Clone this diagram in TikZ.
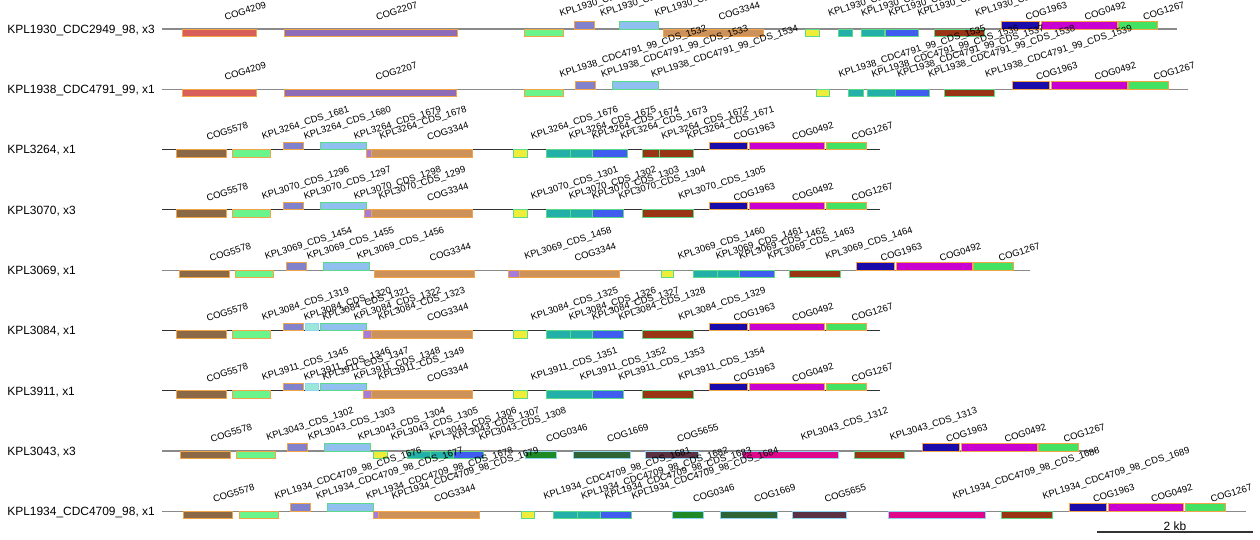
\documentclass[tikz,border=0pt]{standalone}
\usepackage{fontspec}
\setmainfont{Liberation Sans}

% gene fills
\definecolor{cog4209}{HTML}{D9605A}
\definecolor{cog2207}{HTML}{8E6CB8}
\definecolor{cog3344}{HTML}{CC9259}
\definecolor{cog5578}{HTML}{8C6946}
\definecolor{cog1963}{HTML}{1A0BAA}
\definecolor{cog0492}{HTML}{C800D0}
\definecolor{cog1267}{HTML}{44E262}
\definecolor{cog0346}{HTML}{1E8A25}
\definecolor{cog1669}{HTML}{2F6535}
\definecolor{cog5655}{HTML}{5A3142}
\definecolor{grn}{HTML}{6AF58C}
\definecolor{pbl}{HTML}{8282CC}
\definecolor{lbl}{HTML}{90C0F0}
\definecolor{spur}{HTML}{A47CDA}
\definecolor{yel}{HTML}{EEEE3A}
\definecolor{tea}{HTML}{22B0A8}
\definecolor{blu}{HTML}{3F5EF0}
\definecolor{rbr}{HTML}{993514}
\definecolor{ltl}{HTML}{9AE8DA}
\definecolor{pnk}{HTML}{E0088A}
% borders and spines
\definecolor{obrd}{HTML}{F2A548}
\definecolor{gbrd}{HTML}{5DD98A}
\definecolor{bbrd}{HTML}{90D4F0}
\definecolor{sg}{HTML}{8A8A8A}
\definecolor{sd}{HTML}{333333}

% one row: name, y, spine end, spine colour, genes
\newcommand\generow[5]{%
  \draw[spine, draw=#4] (162,#2) -- (#3,#2);
  \foreach \xa/\xb/\st/\fc/\dc/\tx/\kk in {#5} {
    \draw[gene, fill=\fc, draw=\dc] (\xa,#2) rectangle (\xb,{#2-7.5*(\st)});
  }
  \foreach \xa/\xb/\st/\fc/\dc/\tx/\kk [count=\i] in {#5} {
    \node[lab] (#1-\i) at ({(\xa+\xb)/2+6.5+5.25*\kk},{#2-8.5-1.75*\kk}) {\tx};
  }}

\def\pA{KPL1930\_CDC2949\_98\_CDS\_}
\def\pB{KPL1938\_CDC4791\_99\_CDS\_}
\def\pC{KPL3264\_CDS\_}
\def\pD{KPL3070\_CDS\_}
\def\pE{KPL3069\_CDS\_}
\def\pF{KPL3084\_CDS\_}
\def\pG{KPL3911\_CDS\_}
\def\pH{KPL3043\_CDS\_}
\def\pI{KPL1934\_CDC4709\_98\_CDS\_}

\begin{document}
\begin{tikzpicture}[
        x=0.02cm, y=-0.02cm,
        gene/.style={line width=0.5pt},
        spine/.style={line width=0.6pt},
        lab/.style={font=\fontsize{5.4}{6}\selectfont, anchor=base west, inner sep=0pt, rotate=17.5},
        rowlab/.style={font=\fontsize{6.8}{8}\selectfont, anchor=base west, inner sep=0pt}
    ]
    \useasboundingbox (0,0) rectangle (1260,540);
    \clip (0,0) rectangle (1260,540);

    % row labels
    \node[rowlab] (row1) at (7,33.3) {KPL1930\_CDC2949\_98, x3};
    \node[rowlab] (row2) at (7,93.6) {KPL1938\_CDC4791\_99, x1};
    \node[rowlab] (row3) at (7,153.9) {KPL3264, x1};
    \node[rowlab] (row4) at (7,214.2) {KPL3070, x3};
    \node[rowlab] (row5) at (7,274.5) {KPL3069, x1};
    \node[rowlab] (row6) at (7,334.8) {KPL3084, x1};
    \node[rowlab] (row7) at (7,395.1) {KPL3911, x1};
    \node[rowlab] (row8) at (7,455.3) {KPL3043, x3};
    \node[rowlab] (row9) at (7,515.6) {KPL1934\_CDC4709\_98, x1};

    \generow{r1}{29}{1177}{sg}{182/256/-1/cog4209/obrd/COG4209/0, 284/457/-1/cog2207/obrd/COG2207/0,
      524/563/-1/grn/obrd/\pA 1526/2, 574/594/1/pbl/obrd/\pA 1527/2, 619/658/1/lbl/gbrd/\pA 1528/2,
      663/763/-1/cog3344/obrd/COG3344/0, 805/819/-1/yel/gbrd/\pA 1530/2, 838/852/-1/tea/gbrd/\pA 1531/2,
      861/884/-1/tea/gbrd/\pA 1532/2, 885/918/-1/blu/gbrd/\pA 1533/2, 934/984/-1/rbr/gbrd/\pA 1534/2,
      1001/1039/1/cog1963/obrd/COG1963/0, 1041/1117/1/cog0492/obrd/COG0492/0, 1118/1157/1/cog1267/obrd/COG1267/0}

    \generow{r2}{89.3}{1188}{sg}{182/256/-1/cog4209/obrd/COG4209/0, 284/456/-1/cog2207/obrd/COG2207/0,
      524/563/-1/grn/obrd/\pB 1532/2, 575/595/1/pbl/obrd/\pB 1533/2, 612/658/1/lbl/gbrd/\pB 1534/2,
      816/829/-1/yel/gbrd/\pB 1535/2, 848/863/-1/tea/gbrd/\pB 1536/2, 867/895/-1/tea/gbrd/\pB 1537/2,
      895/929/-1/blu/gbrd/\pB 1538/2, 944/994/-1/rbr/gbrd/\pB 1539/2,
      1012/1049/1/cog1963/obrd/COG1963/0, 1051/1127/1/cog0492/obrd/COG0492/0, 1128/1168/1/cog1267/obrd/COG1267/0}

    \generow{r3}{149.6}{880}{sd}{176/226/-1/cog5578/obrd/COG5578/0, 232/270/-1/grn/obrd/\pC 1681/1,
      283/303/1/pbl/obrd/\pC 1680/1, 320/366/1/lbl/gbrd/\pC 1679/1, 366/371/-1/spur/obrd/\pC 1678/1,
      371/472/-1/cog3344/obrd/COG3344/0, 513/527/-1/yel/gbrd/\pC 1676/1, 546/570/-1/tea/gbrd/\pC 1675/1,
      570/592/-1/tea/gbrd/\pC 1674/1, 592/627/-1/blu/gbrd/\pC 1673/1, 642/659/-1/rbr/gbrd/\pC 1672/1,
      659/693/-1/rbr/gbrd/\pC 1671/1,
      709/747/1/cog1963/obrd/COG1963/0, 749/824/1/cog0492/obrd/COG0492/0, 826/866/1/cog1267/obrd/COG1267/0}

    \generow{r4}{209.9}{880}{sd}{176/226/-1/cog5578/obrd/COG5578/0, 232/270/-1/grn/obrd/\pD 1296/1,
      283/303/1/pbl/obrd/\pD 1297/1, 320/366/1/lbl/gbrd/\pD 1298/1, 364/371/-1/spur/obrd/\pD 1299/1,
      371/472/-1/cog3344/obrd/COG3344/0, 513/527/-1/yel/gbrd/\pD 1301/1, 546/570/-1/tea/gbrd/\pD 1302/1,
      570/592/-1/tea/gbrd/\pD 1303/1, 592/623/-1/blu/gbrd/\pD 1304/1, 642/693/-1/rbr/gbrd/\pD 1305/1,
      709/747/1/cog1963/obrd/COG1963/0, 749/824/1/cog0492/obrd/COG0492/0, 826/866/1/cog1267/obrd/COG1267/0}

    \generow{r5}{270.2}{1030}{sg}{179/229/-1/cog5578/obrd/COG5578/0, 235/273/-1/grn/obrd/\pE 1454/1,
      286/306/1/pbl/obrd/\pE 1455/1, 323/369/1/lbl/gbrd/\pE 1456/1, 374/474/-1/cog3344/obrd/COG3344/0,
      508/519/-1/spur/obrd/\pE 1458/1, 519/619/-1/cog3344/obrd/COG3344/0, 661/673/-1/yel/gbrd/\pE 1460/1,
      693/717/-1/tea/gbrd/\pE 1461/1, 717/739/-1/tea/gbrd/\pE 1462/1, 739/774/-1/blu/gbrd/\pE 1463/1,
      789/840/-1/rbr/gbrd/\pE 1464/1,
      856/894/1/cog1963/obrd/COG1963/0, 896/972/1/cog0492/obrd/COG0492/0, 973/1013/1/cog1267/obrd/COG1267/0}

    \generow{r6}{330.5}{880}{sd}{176/226/-1/cog5578/obrd/COG5578/0, 232/270/-1/grn/obrd/\pF 1319/1,
      283/303/1/pbl/obrd/\pF 1320/1, 305/318/1/ltl/bbrd/\pF 1321/1, 320/366/1/lbl/gbrd/\pF 1322/1,
      363/371/-1/spur/obrd/\pF 1323/1, 371/472/-1/cog3344/obrd/COG3344/0, 513/527/-1/yel/gbrd/\pF 1325/1,
      546/570/-1/tea/gbrd/\pF 1326/1, 570/592/-1/tea/gbrd/\pF 1327/1, 592/623/-1/blu/gbrd/\pF 1328/1,
      642/693/-1/rbr/gbrd/\pF 1329/1,
      709/747/1/cog1963/obrd/COG1963/0, 749/824/1/cog0492/obrd/COG0492/0, 826/866/1/cog1267/obrd/COG1267/0}

    \generow{r7}{390.8}{880}{sd}{176/226/-1/cog5578/obrd/COG5578/0, 232/270/-1/grn/obrd/\pG 1345/1,
      283/303/1/pbl/obrd/\pG 1346/1, 305/318/1/ltl/bbrd/\pG 1347/1, 320/366/1/lbl/gbrd/\pG 1348/1,
      363/371/-1/spur/obrd/\pG 1349/1, 371/472/-1/cog3344/obrd/COG3344/0, 513/527/-1/yel/gbrd/\pG 1351/1,
      546/592/-1/tea/gbrd/\pG 1352/1, 592/623/-1/blu/gbrd/\pG 1353/1, 642/693/-1/rbr/gbrd/\pG 1354/1,
      709/747/1/cog1963/obrd/COG1963/0, 749/824/1/cog0492/obrd/COG0492/0, 826/866/1/cog1267/obrd/COG1267/0}

    \generow{r8}{451}{1096}{sg}{180/230/-1/cog5578/obrd/COG5578/0, 236/275/-1/grn/obrd/\pH 1302/1,
      287/307/1/pbl/obrd/\pH 1303/1, 324/370/1/lbl/gbrd/\pH 1304/1, 373/387/-1/yel/gbrd/\pH 1305/1,
      407/430/-1/tea/gbrd/\pH 1306/1, 430/453/-1/tea/gbrd/\pH 1307/1, 453/483/-1/blu/gbrd/\pH 1308/1,
      525/556/-1/cog0346/bbrd/COG0346/0, 573/630/-1/cog1669/bbrd/COG1669/0, 645/698/-1/cog5655/bbrd/COG5655/0,
      742/838/-1/pnk/bbrd/\pH 1312/1, 854/904/-1/rbr/gbrd/\pH 1313/1,
      922/959/1/cog1963/obrd/COG1963/0, 961/1037/1/cog0492/obrd/COG0492/0, 1038/1078/1/cog1267/obrd/COG1267/0}

    \generow{r9}{511.3}{1246}{sg}{183/232/-1/cog5578/obrd/COG5578/0, 239/278/-1/grn/obrd/\pI 1676/2,
      290/310/1/pbl/obrd/\pI 1677/2, 327/373/1/lbl/gbrd/\pI 1678/2, 373/378/-1/spur/obrd/\pI 1679/2,
      378/479/-1/cog3344/obrd/COG3344/0, 521/534/-1/yel/gbrd/\pI 1681/2, 553/577/-1/tea/gbrd/\pI 1682/2,
      577/600/-1/tea/gbrd/\pI 1683/2, 600/631/-1/blu/gbrd/\pI 1684/2,
      672/703/-1/cog0346/bbrd/COG0346/0, 720/777/-1/cog1669/bbrd/COG1669/0, 792/846/-1/cog5655/bbrd/COG5655/0,
      888/985/-1/pnk/bbrd/\pI 1688/2, 1001/1052/-1/rbr/gbrd/\pI 1689/2,
      1069/1106/1/cog1963/obrd/COG1963/0, 1108/1183/1/cog0492/obrd/COG0492/0, 1185/1225/1/cog1267/obrd/COG1267/0}

    % scale bar
    \coordinate (sb1) at (1097,532);
    \coordinate (sb2) at (1253,532);
    \draw[spine, draw=sd] (sb1) -- (sb2);
    \node[font=\fontsize{6.8}{8}\selectfont, anchor=base, inner sep=0pt] (sbl) at (1175,530) {2 kb};
\end{tikzpicture}
\end{document}
